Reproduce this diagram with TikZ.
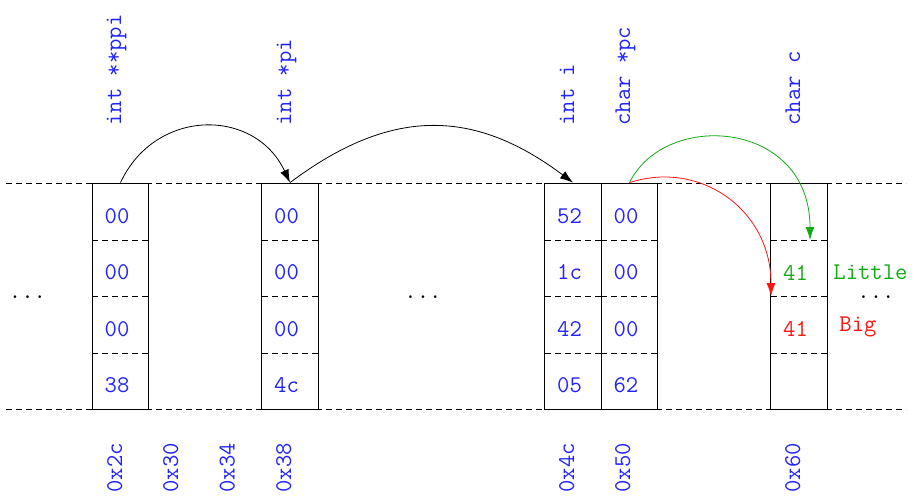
\documentclass[tikz,border=0pt]{standalone}
\usepackage{xcolor}
\usetikzlibrary{arrows.meta,positioning}

\definecolor{varblue}{RGB}{35,35,255}
\definecolor{lilgreen}{RGB}{20,170,20}
\definecolor{bigred}{RGB}{255,20,20}

\begin{document}
\begin{tikzpicture}[
x=0.5pt, y=-0.5pt,
word/.style={draw, minimum width=28.25pt, minimum height=113pt, inner sep=0pt},
byte/.style={font=\ttfamily\fontsize{12}{14}\selectfont, text=varblue, inner sep=0pt},
vlab/.style={font=\ttfamily\fontsize{12}{14}\selectfont, text=varblue, rotate=90, anchor=base west, inner sep=0pt},
dots/.style={font=\ttfamily\fontsize{12}{14}\selectfont, anchor=base, inner sep=0pt},
guide/.style={dash pattern=on 3pt off 2pt},
ptr/.style={-{Latex[length=6.5pt,width=4.5pt]}}
]
\useasboundingbox (0,0) rectangle (916,495);

\draw[guide] (6,183) -- (906,183);
\draw[guide] (6,409) -- (906,409);

\node[word] (w2c) at (120.5,296) {};
\node[word] (w38) at (290,296) {};
\node[word] (w4c) at (573,296) {};
\node[word] (w50) at (629.5,296) {};
\node[word] (w60) at (799,296) {};

% row separators
\draw[guide] (92,240) -- (149,240) (92,296) -- (149,296) (92,353) -- (149,353);
\draw[guide] (262,240) -- (318,240) (262,296) -- (318,296) (262,353) -- (318,353);
\draw[guide] (545,240) -- (601,240) (545,296) -- (601,296) (545,353) -- (601,353);
\draw[guide] (601,240) -- (657,240) (601,296) -- (657,296) (601,353) -- (657,353);
\draw[guide] (771,240) -- (827,240) (771,296) -- (827,296) (771,353) -- (827,353);

\node[byte] (b2c1) at (117,216) {00};
\node[byte] (b2c2) at (117,272.5) {00};
\node[byte] (b2c3) at (117,329) {00};
\node[byte] (b2c4) at (117,385.5) {38};
\node[byte] (b381) at (286.5,216) {00};
\node[byte] (b382) at (286.5,272.5) {00};
\node[byte] (b383) at (286.5,329) {00};
\node[byte] (b384) at (286.5,385.5) {4c};
\node[byte] (b4c1) at (569.5,216) {52};
\node[byte] (b4c2) at (569.5,272.5) {1c};
\node[byte] (b4c3) at (569.5,329) {42};
\node[byte] (b4c4) at (569.5,385.5) {05};
\node[byte] (b501) at (626,216) {00};
\node[byte] (b502) at (626,272.5) {00};
\node[byte] (b503) at (626,329) {00};
\node[byte] (b504) at (626,385.5) {62};
\node[byte, text=lilgreen] (b602) at (795.5,272.5) {41};
\node[byte, text=bigred] (b603) at (795.5,329) {41};

\node[byte, text=lilgreen, anchor=base west] (little) at (833,279) {Little};
\node[byte, text=bigred, anchor=base west] (big) at (839,331) {Big};

\node[dots] (dleft) at (27.5,298) {...};
\node[dots] (dmid) at (423,298) {...};
\node[dots] (dright) at (876,298) {...};

\node[vlab] (nppi) at (121,126) {int **ppi};
\node[vlab] (npi) at (291,126) {int *pi};
\node[vlab] (ni) at (574,126) {int i};
\node[vlab] (npc) at (630,126) {char *pc};
\node[vlab] (nc) at (800,126) {char c};

\node[vlab] (a2c) at (122,493) {0x2c};
\node[vlab] (a30) at (178,493) {0x30};
\node[vlab] (a34) at (234.5,493) {0x34};
\node[vlab] (a38) at (291,493) {0x38};
\node[vlab] (a4c) at (574,493) {0x4c};
\node[vlab] (a50) at (630,493) {0x50};
\node[vlab] (a60) at (800,493) {0x60};

\coordinate (lsb) at (810,240);
\coordinate (msb) at (771,296);

\draw[ptr] (w2c.north) .. controls +(35,-75) and +(-35,-75) .. (w38.north);
\draw[ptr] (w38.north) .. controls +(100,-75) and +(-100,-75) .. (w4c.north);
\draw[ptr, lilgreen] (w50.north) .. controls +(36,-73) and +(0,-120) .. (lsb);
\draw[ptr, bigred] (w50.north) .. controls +(71,-23) and +(0,-86) .. (msb);

\end{tikzpicture}
\end{document}
